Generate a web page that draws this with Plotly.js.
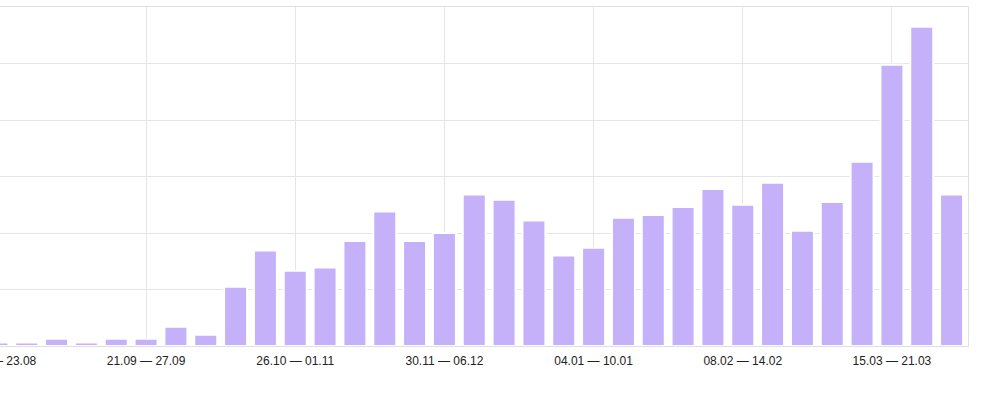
<!DOCTYPE html>
<html>
<head>
<meta charset="utf-8">
<script src="https://cdn.plot.ly/plotly-3.0.1.min.js"></script>
<style>
html,body{margin:0;padding:0;background:#fff;overflow:hidden;width:1003px;height:395px;position:relative;}
#chart{position:absolute;left:-18px;top:0;width:1021px;height:395px;}
</style>
</head>
<body>
<div id="chart"></div>
<script>
const weeks = [
  "17.08 — 23.08","24.08 — 30.08","31.08 — 06.09","07.09 — 13.09","14.09 — 20.09",
  "21.09 — 27.09","28.09 — 04.10","05.10 — 11.10","12.10 — 18.10","19.10 — 25.10",
  "26.10 — 01.11","02.11 — 08.11","09.11 — 15.11","16.11 — 22.11","23.11 — 29.11",
  "30.11 — 06.12","07.12 — 13.12","14.12 — 20.12","21.12 — 27.12","28.12 — 03.01",
  "04.01 — 10.01","11.01 — 17.01","18.01 — 24.01","25.01 — 31.01","01.02 — 07.02",
  "08.02 — 14.02","15.02 — 21.02","22.02 — 28.02","01.03 — 07.03","08.03 — 14.03",
  "15.03 — 21.03","22.03 — 28.03","29.03 — 04.04"
];
const values = [
  0.6, 0.6, 1.3, 0.6, 1.3,
  1.3, 3.4, 2.0, 10.5, 16.9,
  13.3, 13.9, 18.6, 23.8, 18.6,
  20.0, 26.8, 25.9, 22.2, 16.0,
  17.4, 22.7, 23.2, 24.6, 27.8,
  25.0, 28.9, 20.4, 25.5, 32.6,
  49.8, 56.5, 26.8
];
const tickLabels = ["17.08 — 23.08","21.09 — 27.09","26.10 — 01.11","30.11 — 06.12","04.01 — 10.01","08.02 — 14.02","15.03 — 21.03"];

const trace = {
  type: 'bar',
  x: weeks,
  y: values,
  marker: {color: '#c4b1f9', line: {color: '#ffffff', width: 2}},
  hoverinfo: 'x+y'
};

const layout = {
  width: 1021, height: 395,
  margin: {l: 0, r: 35, t: 7, b: 49, pad: 0},
  paper_bgcolor: '#ffffff', plot_bgcolor: '#ffffff',
  bargap: 0.23,
  showlegend: false,
  font: {family: '"Liberation Sans", Arial, sans-serif', size: 12, color: '#222'},
  xaxis: {
    type: 'category',
    range: [-0.5, 32.55],
    tickmode: 'array',
    tickvals: tickLabels,
    ticktext: tickLabels,
    ticks: '',
    ticklabelstandoff: 4,
    showgrid: true, gridcolor: '#e5e5e5', gridwidth: 1,
    showline: true, mirror: true, linecolor: '#e0e0e0', linewidth: 1,
    tickfont: {size: 12, color: '#222'},
    fixedrange: true
  },
  yaxis: {
    range: [0, 60],
    dtick: 10, tick0: 0,
    side: 'right',
    showticklabels: false,
    ticks: '',
    showgrid: true, gridcolor: '#e5e5e5', gridwidth: 1,
    zeroline: false,
    showline: true, linecolor: '#e0e0e0', linewidth: 1,
    fixedrange: true
  }
};

Plotly.newPlot('chart', [trace], layout, {displayModeBar: false, staticPlot: true});
</script>
</body>
</html>
